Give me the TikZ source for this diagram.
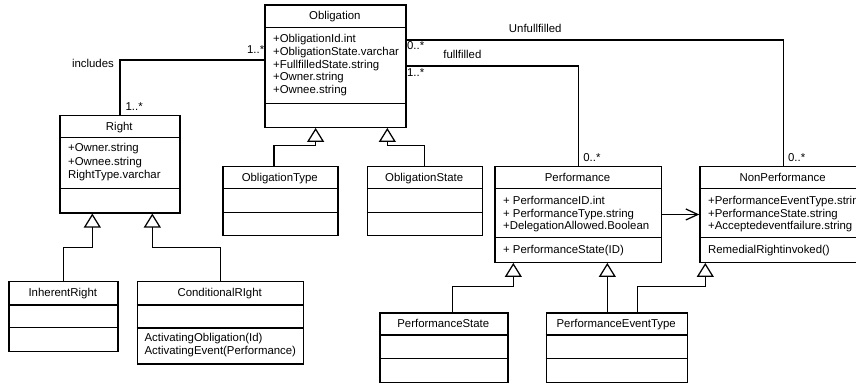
\documentclass[tikz,border=0pt]{standalone}
\usepackage{fontspec}
\setmainfont{Liberation Sans}
\usetikzlibrary{arrows.meta}

% class box: name, x, y (top left), width, height, header rule, attribute rule
\newcommand{\umlclass}[7]{%
  \node[cls, minimum width=#4pt, minimum height=#5pt] (#1) at (#2,#3) {};
  \draw ([yshift=-#6pt]#1.north west) -- ([yshift=-#6pt]#1.north east);
  \draw ([yshift=-#7pt]#1.north west) -- ([yshift=-#7pt]#1.north east);
}

\begin{document}
\begin{tikzpicture}[x=1pt, y=-1pt, line width=1.25pt,
  cls/.style={draw, fill=white, inner sep=0pt, anchor=north west},
  txt/.style={font=\fontsize{11.4}{13}\selectfont, inner sep=0pt},
  ttl/.style={txt, anchor=base},
  lbl/.style={txt, anchor=base west},
  gen/.style={-{Triangle[open, length=14pt, width=17pt]}},
  assoc/.style={-{Straight Barb[length=12pt, width=11pt]}}]
\useasboundingbox (0,0) rectangle (856,385);
\clip (0,0) rectangle (856,385);

% ---------- classes ----------
\umlclass{obl}{264.3}{4.3}{141}{122.4}{23.4}{99.4}
\umlclass{right}{59.3}{115}{120}{97.3}{22.3}{73.3}
\umlclass{otype}{222.3}{166}{115}{69}{22.7}{46.3}
\umlclass{ostate}{366.7}{166}{115}{69}{22.7}{46.3}
\umlclass{perf}{494.3}{166}{166.4}{95.7}{22.7}{71.5}
\umlclass{nonperf}{699.3}{166}{166.7}{95.7}{22.7}{71.5}
\umlclass{inh}{8.3}{281}{109}{69.7}{24}{46.3}
\umlclass{cond}{136.7}{281}{166}{82.3}{24}{47}
\umlclass{pstate}{379.3}{312.3}{128}{69.4}{22.7}{46}
\umlclass{pevt}{545.7}{312.3}{141}{69.4}{22.7}{46}

% ---------- titles ----------
\node[ttl] (obl-t)     at (334.8,19.6)  {Obligation};
\node[ttl] (right-t)   at (119.3,130.3) {Right};
\node[ttl] (otype-t)   at (279.8,181.3) {ObligationType};
\node[ttl] (ostate-t)  at (424.2,181.3) {ObligationState};
\node[ttl] (perf-t)    at (577.5,181.3) {Performance};
\node[ttl] (nonperf-t) at (782.6,181.3) {NonPerformance};
\node[ttl] (inh-t)     at (62.8,296.5)  {InherentRight};
\node[ttl] (cond-t)    at (219.7,296.5) {ConditionalRIght};
\node[ttl] (pstate-t)  at (443.3,327.8) {PerformanceState};
\node[ttl] (pevt-t)    at (616.2,327.8) {PerformanceEventType};

% ---------- attributes and operations ----------
\node[lbl] (obl-a1) at (272.5,42.3) {+ObligationId.int};
\node[lbl] (obl-a2) at (272.5,55.2) {+ObligationState.varchar};
\node[lbl] (obl-a3) at (272.5,68.1) {+FullfilledState.string};
\node[lbl] (obl-a4) at (272.5,81.0) {+Owner.string};
\node[lbl] (obl-a5) at (272.5,93.9) {+Ownee.string};

\node[lbl] (right-a1) at (67.5,151.8) {+Owner.string};
\node[lbl] (right-a2) at (67.5,165.1) {+Ownee.string};
\node[lbl] (right-a3) at (67.5,178.4) {RightType.varchar};

\node[lbl] (perf-a1) at (502.5,204.3) {+ PerformanceID.int};
\node[lbl] (perf-a2) at (502.5,217.0) {+ PerformanceType.string};
\node[lbl] (perf-a3) at (502.5,229.7) {+DelegationAllowed.Boolean};
\node[lbl] (perf-m1) at (502.5,253.3) {+ PerformanceState(ID)};

\node[lbl] (nonperf-a1) at (707.5,204.3) {+PerformanceEventType.string};
\node[lbl] (nonperf-a2) at (707.5,217.0) {+PerformanceState.string};
\node[lbl] (nonperf-a3) at (707.5,229.7) {+Acceptedeventfailure.string};
\node[lbl] (nonperf-m1) at (707.5,253.3) {RemedialRightinvoked()};

\node[lbl] (cond-m1) at (144,341.5) {ActivatingObligation(Id)};
\node[lbl] (cond-m2) at (144,354.9) {ActivatingEvent(Performance)};

% ---------- associations ----------
\draw ([yshift=6.2pt]obl.west) -| (right.north);
\node[txt, anchor=base east] (inc-l)  at (114.5,67.3) {includes};
\node[lbl] (inc-m1) at (246.5,53.4) {1..*};
\node[lbl] (inc-m2) at (125,110.8)  {1..*};

\draw ([yshift=26.2pt]obl.east) -| (nonperf.north);
\node[lbl] (unf-l)  at (508.3,32.4)  {Unfullfilled};
\node[lbl] (unf-m1) at (406.5,49.7)  {0..*};
\node[lbl] (unf-m2) at (787.5,161.7) {0..*};

\draw (obl.east) -| (perf.north);
\node[lbl] (ful-l)  at (442.7,59.0)  {fullfilled};
\node[lbl] (ful-m1) at (406.5,76.7)  {1..*};
\node[lbl] (ful-m2) at (582.7,161.7) {0..*};

\draw[assoc] (perf.east) -- (nonperf.west);

% ---------- generalizations ----------
\draw[gen] ([xshift=-6.5pt]otype.north) -- ++(0,-20.3) -| ([xshift=-19.8pt]obl.south);
\draw[gen] (ostate.north) -- ++(0,-20.3) -| ([xshift=51.9pt]obl.south);

\draw[gen] (inh.north) -- ++(0,-33.7) -| ([xshift=-27.6pt]right.south);
\draw[gen] (cond.north) -- ++(0,-33.7) -| ([xshift=32.4pt]right.south);

\draw[gen] ([xshift=8.4pt]pstate.north) -- ++(0,-25.6) -| ([xshift=-64.8pt]perf.south);
\draw[gen] ([xshift=-9.5pt]pevt.north) -- ([xshift=29.2pt]perf.south);
\draw[gen] ([xshift=20.5pt]pevt.north) -- ++(0,-25.6) -| ([xshift=6pt]nonperf.south west);
\end{tikzpicture}
\end{document}
